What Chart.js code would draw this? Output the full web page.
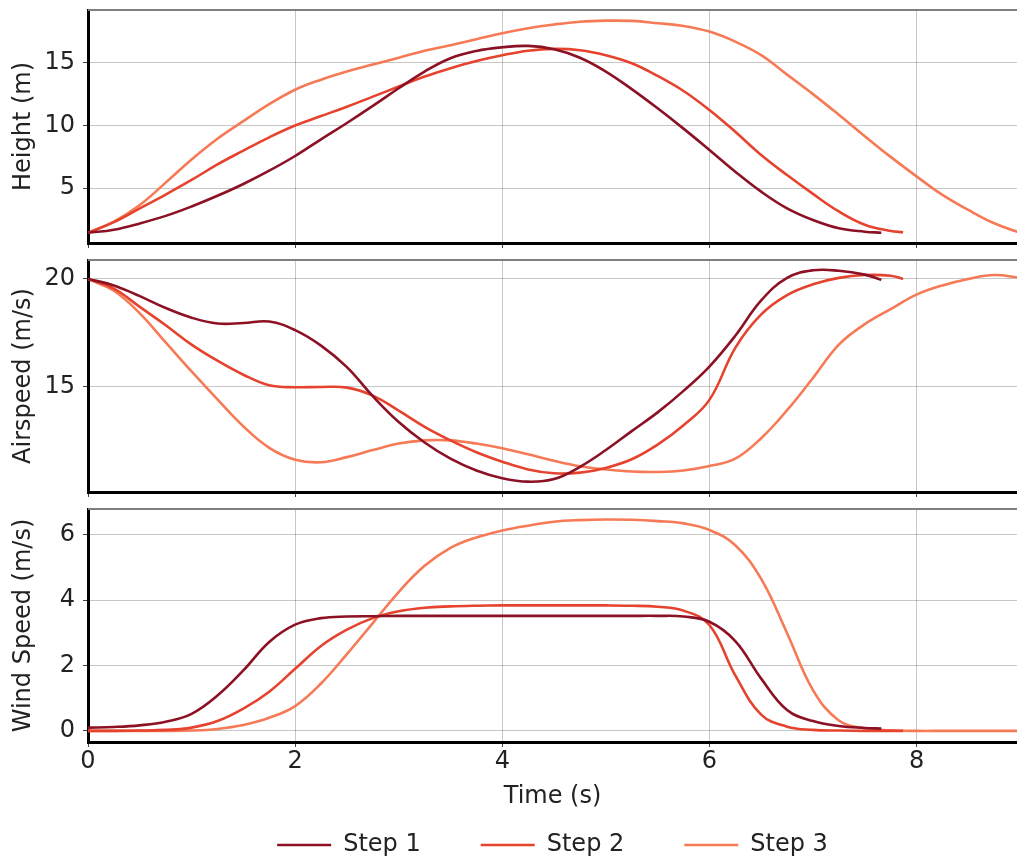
<!DOCTYPE html>
<html lang="en">
  <head>
    <meta charset="utf-8">
    <title>Height, Airspeed and Wind Speed</title>
    <script src="https://cdn.jsdelivr.net/npm/chart.js@4.4.1/dist/chart.umd.min.js"></script>
    <style>
      body { margin: 0; overflow: hidden; background: #fff; }
      canvas { position: absolute; left: 0; }
    </style>
  </head>
  <body>
    <canvas id="height" width="1017" height="250" style="top:0px"></canvas>
    <canvas id="airspeed" width="1017" height="250" style="top:250px"></canvas>
    <canvas id="wind" width="1017" height="367" style="top:500px"></canvas>
    <script>
      // values
      const stepLabels = ['Step 1', 'Step 2', 'Step 3'];
      const stepColors = ['#8c1124', '#e6432f', '#f67a56'];

      const time1 = [0, 0.25, 0.5, 0.75, 1, 1.25, 1.5, 1.75, 2, 2.25, 2.5, 2.75, 3, 3.25, 3.5, 3.75,
        4, 4.25, 4.5, 4.75, 5, 5.25, 5.5, 5.75, 6, 6.25, 6.5, 6.75, 7, 7.25, 7.5, 7.66];
      const time2 = [0, 0.25, 0.5, 0.75, 1, 1.25, 1.5, 1.75, 2, 2.25, 2.5, 2.75, 3, 3.25, 3.5, 3.75,
        4, 4.25, 4.5, 4.75, 5, 5.25, 5.5, 5.75, 6, 6.25, 6.5, 6.75, 7, 7.25, 7.5, 7.75, 7.87];
      const time3 = [0, 0.25, 0.5, 0.75, 1, 1.25, 1.5, 1.75, 2, 2.25, 2.5, 2.75, 3, 3.25, 3.5, 3.75,
        4, 4.25, 4.5, 4.75, 5, 5.25, 5.5, 5.75, 6, 6.25, 6.5, 6.75, 7, 7.25, 7.5, 7.75,
        8, 8.25, 8.5, 8.75, 9];

      const height1 = [1.45, 1.7, 2.2, 2.8, 3.55, 4.4, 5.34, 6.4, 7.57, 8.9, 10.2, 11.56, 12.97, 14.3, 15.36, 15.94,
        16.23, 16.34, 16.07, 15.4, 14.3, 12.9, 11.37, 9.75, 8.05, 6.32, 4.73, 3.4, 2.47, 1.81, 1.54, 1.46];
      const height2 = [1.45, 2.3, 3.4, 4.5, 5.66, 6.9, 8.0, 9.06, 10.0, 10.75, 11.5, 12.3, 13.1, 13.9, 14.56, 15.14,
        15.6, 15.96, 16.1, 16.0, 15.6, 14.96, 13.95, 12.75, 11.24, 9.5, 7.65, 6.05, 4.55, 3.15, 2.1, 1.6, 1.5];
      const height3 = [1.45, 2.35, 3.67, 5.45, 7.3, 8.95, 10.35, 11.7, 12.85, 13.65, 14.3, 14.85, 15.4, 15.95, 16.4, 16.87,
        17.35, 17.75, 18.05, 18.27, 18.35, 18.33, 18.15, 17.93, 17.48, 16.68, 15.6, 14.05, 12.5, 10.85, 9.15, 7.5,
        5.95, 4.47, 3.27, 2.21, 1.45];

      const airspeed1 = [20.0, 19.7, 19.2, 18.65, 18.2, 17.93, 17.95, 18.02, 17.62, 16.9, 15.9, 14.55, 13.35, 12.4, 11.65, 11.1,
        10.74, 10.58, 10.7, 11.27, 12.05, 12.93, 13.8, 14.8, 15.93, 17.36, 19.0, 20.05, 20.4, 20.38, 20.2, 19.96];
      const airspeed2 = [20.0, 19.55, 18.7, 17.85, 16.95, 16.2, 15.55, 15.06, 14.97, 14.98, 14.95, 14.58, 13.88, 13.13, 12.5, 11.95,
        11.51, 11.15, 10.97, 11.0, 11.22, 11.62, 12.3, 13.2, 14.38, 16.8, 18.35, 19.25, 19.75, 20.05, 20.18, 20.15, 20.0];
      const airspeed3 = [20.0, 19.45, 18.4, 17.05, 15.7, 14.4, 13.15, 12.15, 11.6, 11.48, 11.72, 12.05, 12.35, 12.5, 12.5, 12.35,
        12.13, 11.85, 11.55, 11.3, 11.15, 11.05, 11.03, 11.1, 11.31, 11.65, 12.6, 13.9, 15.4, 16.95, 17.9, 18.6,
        19.27, 19.7, 20.0, 20.18, 20.05];

      const wind1 = [0.1, 0.12, 0.17, 0.28, 0.52, 1.08, 1.85, 2.72, 3.25, 3.45, 3.5, 3.51, 3.52, 3.52, 3.52, 3.52,
        3.52, 3.52, 3.52, 3.52, 3.52, 3.52, 3.52, 3.5, 3.34, 2.75, 1.6, 0.64, 0.3, 0.15, 0.09, 0.07];
      const wind2 = [0, 0, 0.01, 0.03, 0.1, 0.3, 0.68, 1.2, 1.9, 2.6, 3.1, 3.45, 3.66, 3.77, 3.81, 3.83,
        3.84, 3.84, 3.84, 3.84, 3.84, 3.83, 3.8, 3.68, 3.24, 1.7, 0.5, 0.13, 0.03, 0.01, 0, 0, 0];
      const wind3 = [0, 0, 0, 0, 0.01, 0.06, 0.18, 0.4, 0.76, 1.45, 2.35, 3.3, 4.25, 5.05, 5.6, 5.92,
        6.13, 6.28, 6.4, 6.45, 6.47, 6.46, 6.42, 6.35, 6.15, 5.68, 4.65, 2.99, 1.25, 0.32, 0.08, 0.02,
        0, 0, 0, 0, 0];

      const timeTicks = [0, 2, 4, 6, 8];
      const heightTicks = [5, 10, 15];
      const airspeedTicks = [15, 20];
      const windTicks = [0, 2, 4, 6];

      const font = { family: 'DejaVu Sans', size: 24 };
      const textColor = '#222';
      const gridColor = 'rgba(0,0,0,0.22)';

      const times = [time1, time2, time3];

      function datasets(series) {
        return series.map((vals, i) => ({
          label: stepLabels[i],
          data: times[i].map((t, j) => ({ x: t, y: vals[j] })),
          borderColor: stepColors[i],
          backgroundColor: stepColors[i],
          borderWidth: 2.6,
          pointRadius: 0,
          tension: 0.4
        }));
      }

      const topBorder = {
        id: 'topBorder',
        afterDraw(chart) {
          const { ctx, chartArea: a } = chart;
          ctx.save();
          ctx.strokeStyle = '#7f7f7f';
          ctx.lineWidth = 2;
          ctx.beginPath();
          ctx.moveTo(a.left, a.top);
          ctx.lineTo(a.right, a.top);
          ctx.stroke();
          ctx.restore();
        }
      };

      function noPad(s) {
        s.paddingTop = 0;
        s.paddingBottom = 0;
        s.paddingLeft = 0;
        s.paddingRight = 0;
      }

      function panel(id, series, yTitle, yMin, yMax, yTicks, opts) {
        const last = opts.last;
        return new Chart(document.getElementById(id), {
          type: 'line',
          data: { datasets: datasets(series) },
          plugins: [topBorder],
          options: {
            responsive: false,
            devicePixelRatio: 1,
            animation: false,
            events: [],
            layout: { autoPadding: false, padding: { top: opts.top, left: 0, right: 0, bottom: 0 } },
            plugins: {
              tooltip: { enabled: false },
              legend: {
                display: last,
                position: 'bottom',
                fullSize: false,
                labels: {
                  usePointStyle: true,
                  pointStyle: 'line',
                  pointStyleWidth: 54,
                  padding: 60,
                  font: font,
                  color: textColor
                }
              }
            },
            scales: {
              x: {
                type: 'linear',
                min: 0,
                max: 8.97,
                afterBuildTicks: s => { s.ticks = timeTicks.map(v => ({ value: v })); },
                afterFit: s => { s.height = opts.xHeight; noPad(s); },
                grid: { color: gridColor, lineWidth: 1, tickLength: 5, tickColor: '#444' },
                border: { color: '#000', width: 3 },
                ticks: { display: last, font: font, color: textColor, padding: 0, maxRotation: 0, autoSkip: false },
                title: {
                  display: last,
                  text: 'Time (s)',
                  font: font,
                  color: textColor,
                  padding: { top: 0, bottom: -38 }
                }
              },
              y: {
                min: yMin,
                max: yMax,
                afterBuildTicks: s => { s.ticks = yTicks.map(v => ({ value: v })); },
                afterFit: s => { s.width = 88; noPad(s); },
                grid: { color: gridColor, lineWidth: 1, tickLength: 5, tickColor: '#444' },
                border: { color: '#000', width: 3 },
                ticks: { font: font, color: textColor, padding: 8 },
                title: {
                  display: true,
                  text: yTitle,
                  font: font,
                  color: textColor,
                  padding: { top: 9, bottom: 0 }
                }
              }
            }
          }
        });
      }

      panel('height', [height1, height2, height3], 'Height (m)', 0.64, 19.2, heightTicks,
        { top: 10, xHeight: 7, last: false });
      panel('airspeed', [airspeed1, airspeed2, airspeed3], 'Airspeed (m/s)', 10.1, 20.88, airspeedTicks,
        { top: 10, xHeight: 8, last: false });
      panel('wind', [wind1, wind2, wind3], 'Wind Speed (m/s)', -0.34, 6.79, windTicks,
        { top: 9, xHeight: 31, last: true });
    </script>
  </body>
</html>
